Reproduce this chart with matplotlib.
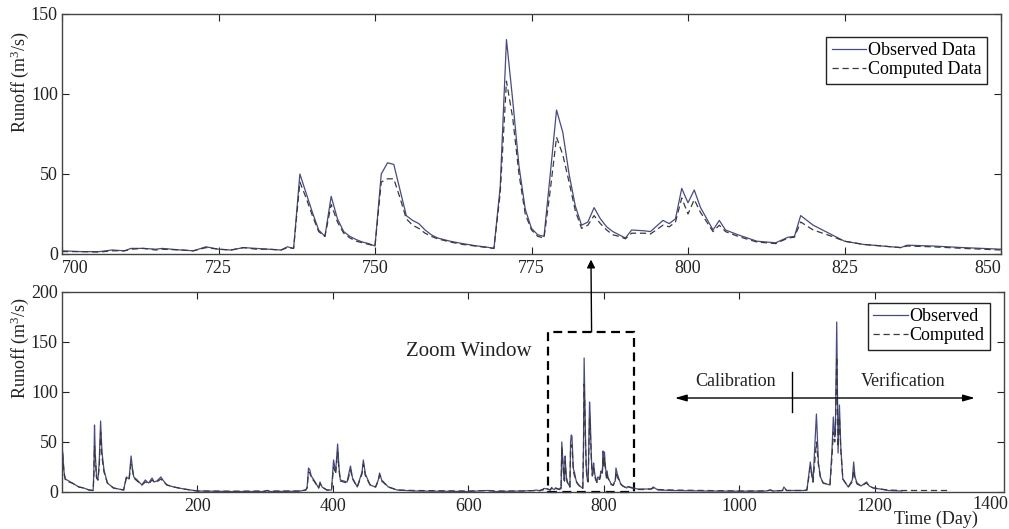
import matplotlib
matplotlib.use("Agg")
import matplotlib.pyplot as plt
from matplotlib.patches import Rectangle, ConnectionPatch

plt.rcParams["font.family"] = ["Liberation Serif", "DejaVu Serif"]
plt.rcParams["mathtext.default"] = "regular"

OBS_C, COMP_C, INK = "#46498c", "#3a3a3a", "#222222"
DASH = (0, (5, 3))

# ---- zoom window, days 700-850 (top panel, also part of the full record) ----
zoom_day = [700, 703, 706, 708, 710, 711, 713, 715, 716, 719, 721, 723, 725, 727, 729, 731, 733, 735, 736, 737,
            738, 739, 740, 741, 742, 743, 744, 745, 746, 747, 748, 749, 750, 751, 752, 753, 754, 755, 756, 757,
            758, 759, 760, 762, 764, 766, 768, 769, 770, 771, 772, 773, 774, 775, 776, 777, 778, 779, 780, 781,
            782, 783, 784, 785, 786, 787, 788, 789, 790, 791, 793, 794, 796, 797, 798, 799, 800, 801, 802, 804,
            805, 806, 808, 811, 814, 816, 817, 818, 820, 823, 825, 828, 831, 834, 835, 839, 844, 850]
zoom_obs = [2, 1.5, 1.5, 2.5, 2, 3.5, 3.5, 3, 3.5, 2.5, 2, 4.5, 3, 2.5, 4, 3.5, 3, 2.5, 4.5, 3.5,
            50, 38, 26, 15, 11, 36, 22, 14, 11, 9, 7.5, 6.5, 5, 50, 57, 56, 40, 24, 21, 19,
            15, 12, 10, 8, 6.5, 5.2, 4.2, 3.5, 42, 134, 96, 55, 28, 16, 12, 11, 50, 90, 76, 50,
            30, 18, 20, 29, 22, 17, 14, 12, 10, 15, 14.5, 14, 21, 19, 22, 41, 32, 40, 29, 15,
            21, 15, 12, 8, 7, 10.5, 11, 24, 18, 12, 8, 6, 5, 4, 5.5, 5, 4, 3]
zoom_comp = [1.5, 1.5, 1.2, 2, 2, 3, 3.5, 2.5, 3, 2.5, 2, 4, 3, 2.5, 4, 3, 3, 2.5, 4, 3.5,
             45, 35, 24, 14, 11, 31, 20, 13, 10, 8, 7, 6, 5, 45, 47, 47, 35, 22, 18, 16,
             13, 11, 9.5, 7.5, 6, 5, 4, 3.5, 38, 108, 85, 50, 25, 15, 11, 10, 40, 73, 62, 45,
             27, 16, 18, 24, 19, 15, 12, 11, 9.5, 13, 13, 12.5, 18, 17, 20, 35, 25, 34, 26, 14,
             18, 14, 11, 7.5, 6.5, 10, 10.5, 20, 15, 11, 8, 6, 5, 4, 5, 4.5, 3.5, 2.5]

# ---- full record before the zoom window ----
early_day = [1, 3, 5, 10, 15, 25, 32, 40, 46, 47, 48, 49, 51, 53, 55, 57, 59, 62, 67, 76,
             91, 95, 99, 102, 104, 106, 111, 118, 123, 126, 128, 133, 136, 140, 146, 150, 155, 165, 180, 200,
             250, 300, 303, 306, 350, 360, 362, 364, 366, 368, 372, 379, 381, 384, 391, 398, 401, 404, 407, 409,
             411, 421, 424, 426, 429, 436, 443, 445, 448, 455, 463, 467, 469, 472, 482, 495, 520, 560, 600, 628,
             640, 680, 698]
early_obs = [40, 20, 13, 11, 9, 5, 4, 2, 1.5, 20, 67, 40, 15, 12, 30, 71, 40, 22, 9, 4,
             2, 15, 13, 36, 24, 15, 12, 7, 12, 10, 9, 14, 10, 11, 15, 11, 7, 5, 3, 1,
             0.5, 0.5, 1.5, 0.5, 0.8, 2, 5, 24, 22, 16, 12, 4, 10, 5, 2, 2, 32, 20, 48, 25,
             12, 10, 20, 26, 14, 5, 20, 32, 18, 7, 5, 12, 19, 12, 5, 2, 1, 0.8, 0.5, 1.5,
             0.5, 1, 1.5]
early_comp = [38, 18, 12, 10, 9, 5, 4, 2, 1.5, 15, 46, 35, 14, 12, 25, 60, 35, 20, 9, 4,
              2, 14, 12, 28, 22, 14, 11, 7, 10, 9, 8, 12, 10, 10, 13, 10, 7, 5, 3, 1,
              0.8, 1, 1.5, 1, 1, 2, 4, 20, 19, 14, 11, 4, 8, 5, 2, 2, 25, 18, 40, 22,
              11, 9, 17, 22, 13, 5, 18, 28, 16, 7, 5, 11, 17, 11, 5, 2, 1.5, 1.2, 1, 1.5,
              1, 1, 1.5]

# ---- full record after the zoom window ----
late_day = [860, 870, 873, 880, 900, 950, 1000, 1040, 1046, 1050, 1064, 1066, 1070, 1095, 1100, 1105, 1109, 1114, 1117, 1120,
            1124, 1134, 1136, 1137, 1139, 1141, 1142, 1144, 1145, 1146, 1148, 1150, 1153, 1161, 1167, 1169, 1171, 1174, 1180, 1188,
            1192, 1198, 1208, 1220, 1240]
late_obs = [3, 3, 5, 2, 1.5, 1, 0.8, 1, 2, 1, 1.5, 5, 1.5, 1.5, 2, 30, 10, 78, 29, 15,
            9, 7, 30, 42, 75, 55, 60, 170, 100, 39, 87, 45, 13, 5, 12, 30, 15, 9, 6, 10,
            6, 4, 3, 1.5, 1]
late_comp = [2.5, 3, 4, 2.5, 2, 1.5, 1, 1, 2, 1, 1.5, 4, 1.5, 1.5, 2, 25, 10, 50, 27, 14,
             9, 7, 25, 35, 60, 50, 55, 135, 90, 45, 75, 42, 13, 5, 10, 22, 13, 8, 6, 9,
             6, 4, 3, 2, 1.5]
# computed series runs on after the observed record stops
tail_day = [1260, 1280, 1311]
tail_comp = [1.5, 1.5, 1.5]

full_day_obs = early_day + zoom_day + late_day
full_obs = early_obs + zoom_obs + late_obs
full_day_comp = early_day + zoom_day + late_day + tail_day
full_comp = early_comp + zoom_comp + late_comp + tail_comp

fig = plt.figure(figsize=(10.09, 5.29), dpi=100)
W, H = 1009, 529
ax1 = fig.add_axes([62 / W, 1 - 254 / H, 939 / W, 240 / H])
ax2 = fig.add_axes([62 / W, 1 - 492 / H, 942 / W, 200 / H])

# ---- top: zoom window ----
ax1.plot(zoom_day, zoom_obs, color=OBS_C, lw=0.9, label="Observed Data")
ax1.plot(zoom_day, zoom_comp, color=COMP_C, lw=0.9, ls=DASH, label="Computed Data")
ax1.set_xlim(700, 850); ax1.set_ylim(0, 150)
ax1.set_xticks([700, 725, 750, 775, 800, 825, 850]); ax1.set_yticks([0, 50, 100, 150])

# ---- bottom: whole record ----
ax2.plot(full_day_obs, full_obs, color=OBS_C, lw=0.9, label="Observed")
ax2.plot(full_day_comp, full_comp, color=COMP_C, lw=0.9, ls=DASH, label="Computed")
ax2.set_xlim(0, 1391); ax2.set_ylim(0, 200)
ax2.set_xticks([200, 400, 600, 800, 1000, 1200]); ax2.set_yticks([0, 50, 100, 150, 200])

for a, ycen in [(ax1, 0.717), (ax2, 0.72)]:
    a.tick_params(direction="in", top=True, right=True, length=5, width=0.8,
                  labelsize=13, color=INK, labelcolor=INK, pad=4)
    a.tick_params(axis="y", pad=3)
    for s in a.spines.values():
        s.set_color("#444444"); s.set_linewidth(1.0)
    a.set_ylabel("Runoff (m$^3$/s)", fontsize=13, color=INK, va="center")
    a.yaxis.set_label_coords(-0.045, ycen)

# end labels of the top axis sit inside the frame, as in the reference
xl = ax1.get_xticklabels()
xl[0].set_ha("left"); xl[-1].set_ha("right")

for a, lab_anchor in [(ax1, (0.985, 0.904)), (ax2, (0.985, 0.945))]:
    leg = a.legend(loc="upper right", bbox_to_anchor=lab_anchor, borderaxespad=0, fontsize=13,
                   fancybox=False, edgecolor=INK, handlelength=1.9, handletextpad=0.1,
                   labelspacing=0.1, borderpad=0.3, framealpha=1)
    leg.get_frame().set_linewidth(1.0)

# right-hand tick label of the reference, just past the frame
ax2.annotate("1400", xy=(1, 0), xycoords="axes fraction", xytext=(3, -3),
             textcoords="offset points", ha="right", va="top", fontsize=13, color=INK,
             annotation_clip=False)
fig.text(936 / W, 1 - 519 / H, "Time (Day)", fontsize=13, ha="center", va="center", color=INK)

# zoom window box + arrow up to the top panel
ax2.add_patch(Rectangle((718, 0), 127, 160, fill=False, ec="black", lw=1.6, ls=(0, (4, 2.5)), clip_on=False))
ax2.text(601, 140, "Zoom Window", fontsize=15, ha="center", va="center", color=INK)
con = ConnectionPatch(xyA=(782, 160), coordsA=ax2.transData, xyB=(784.5, -3.5), coordsB=ax1.transData,
                      arrowstyle="-|>", mutation_scale=12, color="black", lw=1)
fig.add_artist(con)

# calibration / verification split
ax2.annotate("", xy=(905, 94), xytext=(1348, 94),
             arrowprops=dict(arrowstyle="<|-|>,head_length=0.7,head_width=0.2", color="black", lw=1,
                             shrinkA=0, shrinkB=0))
ax2.plot([1078, 1078], [80, 120], color="black", lw=1)
ax2.text(995, 111, "Calibration", fontsize=13, ha="center", va="center", color=INK)
ax2.text(1242, 111, "Verification", fontsize=13, ha="center", va="center", color=INK)

fig.savefig("out.png", dpi=100)
